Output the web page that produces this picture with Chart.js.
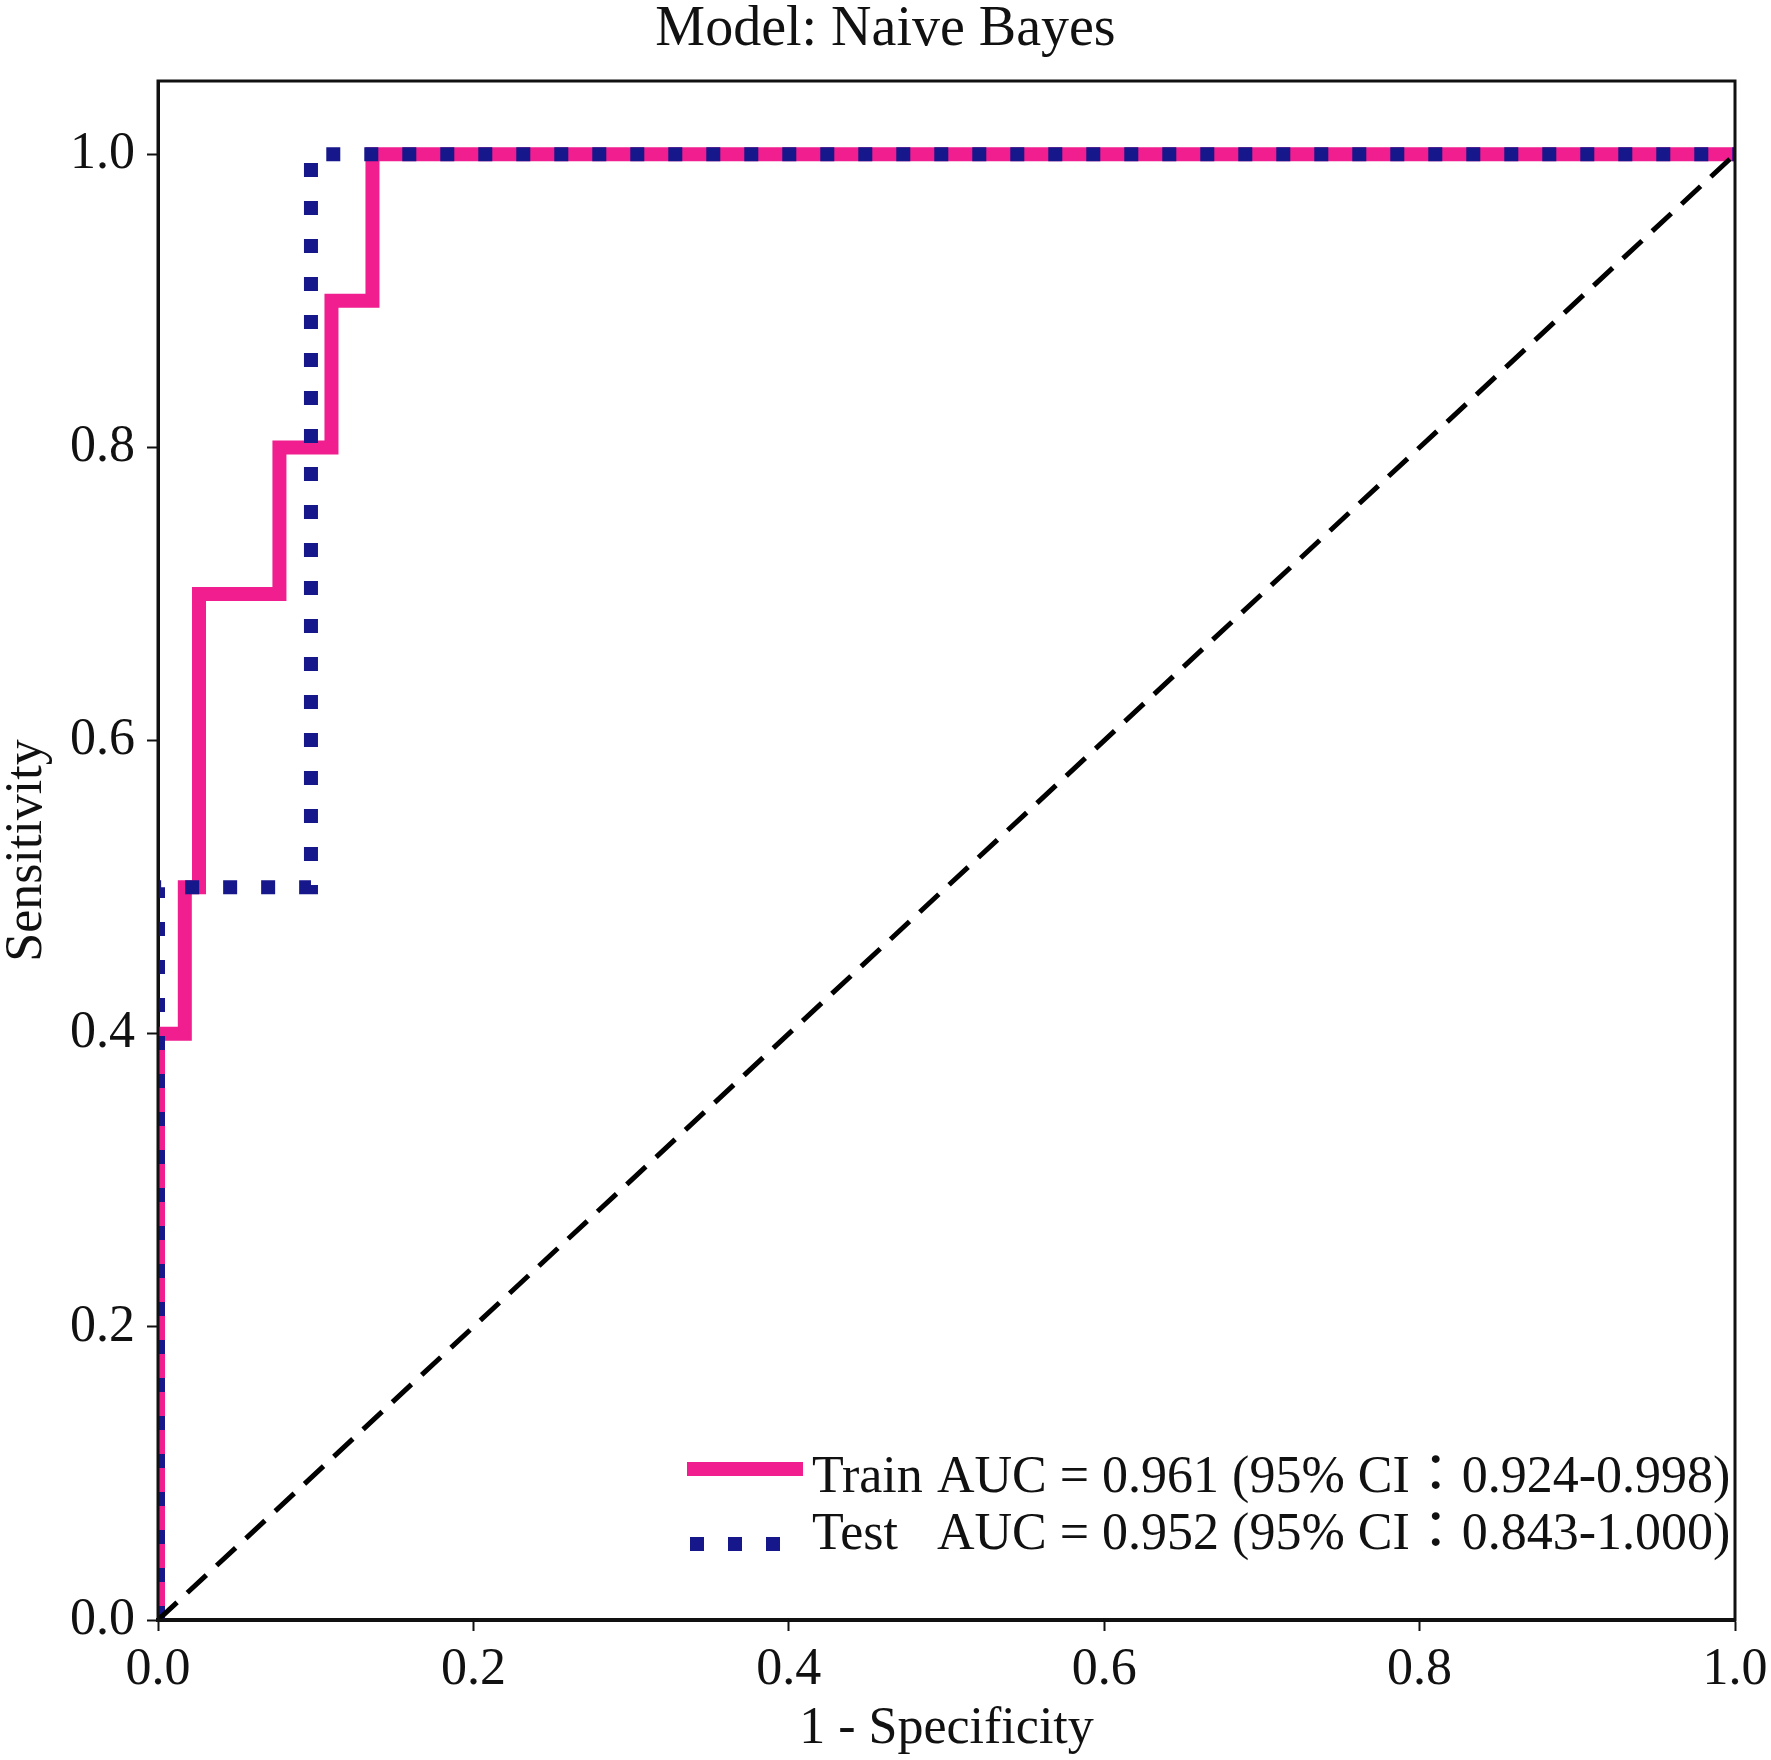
<!DOCTYPE html>
<html>
<head>
<meta charset="utf-8">
<script src="https://cdn.jsdelivr.net/npm/chart.js@4.4.0/dist/chart.umd.min.js"></script>
<style>
  html, body { margin: 0; padding: 0; background: #ffffff; }
  #wrap { width: 1771px; height: 1760px; }
</style>
</head>
<body>
<div id="wrap"><canvas id="c" width="1771" height="1760"></canvas></div>
<script>
// ---- data ----
const titleText = 'Model: Naive Bayes';
const xAxisTitle = '1 - Specificity';
const yAxisTitle = 'Sensitivity';

const xTickValues = [0, 0.2, 0.4, 0.6, 0.8, 1.0];
const xTickLabels = ['0.0', '0.2', '0.4', '0.6', '0.8', '1.0'];
const yTickValues = [0, 0.2, 0.4, 0.6, 0.8, 1.0];
const yTickLabels = ['0.0', '0.2', '0.4', '0.6', '0.8', '1.0'];

// Train ROC (1 - specificity, sensitivity)
const trainFPR = [0, 0, 0.017, 0.017, 0.026, 0.026, 0.077, 0.077, 0.110, 0.110, 0.136, 0.136, 1.0];
const trainTPR = [0, 0.4, 0.4, 0.5, 0.5, 0.7, 0.7, 0.8, 0.8, 0.9, 0.9, 1.0, 1.0];

// Test ROC
const testFPR = [0, 0, 0.097, 0.097, 1.0];
const testTPR = [0, 0.5, 0.5, 1.0, 1.0];

// chance diagonal
const diagFPR = [0, 1];
const diagTPR = [0, 1];

const legendNames = ['Train', 'Test'];
const legendStats = ['AUC = 0.961 (95% CI\uFF1A0.924-0.998)', 'AUC = 0.952 (95% CI\uFF1A0.843-1.000)'];

// ---- styles ----
const PINK = '#F01E8E';
const NAVY = '#17178C';
const INK = '#111111';
const FONT = "'Liberation Serif', 'Times New Roman', 'Noto Sans CJK TC', serif";

function pts(xs, ys) { return xs.map((x, i) => ({ x: x, y: ys[i] })); }

const boxPlugin = {
  id: 'boxBorder',
  afterDatasetsDraw(chart) {
    const { ctx, chartArea: a } = chart;
    ctx.save();
    ctx.strokeStyle = INK;
    ctx.lineWidth = 3;
    ctx.strokeRect(a.left, a.top, a.right - a.left, a.bottom - a.top);
    ctx.restore();
  }
};

const legendPlugin = {
  id: 'rocLegend',
  afterDraw(chart) {
    const { ctx, chartArea: a } = chart;
    const ds = chart.data.datasets;
    const rows = [
      { ds: ds[1], sampleY: a.bottom - 151, baseY: a.bottom - 128, x0: a.right - 1048, x1: a.right - 932 },
      { ds: ds[2], sampleY: a.bottom - 76, baseY: a.bottom - 71, x0: a.right - 1045, x1: a.right - 955 }
    ];
    ctx.save();
    rows.forEach((r, i) => {
      ctx.beginPath();
      ctx.strokeStyle = r.ds.borderColor;
      ctx.lineWidth = r.ds.borderWidth;
      ctx.lineCap = 'butt';
      ctx.setLineDash(r.ds.borderDash || []);
      ctx.moveTo(r.x0, r.sampleY);
      ctx.lineTo(r.x1, r.sampleY);
      ctx.stroke();
      ctx.setLineDash([]);
      ctx.fillStyle = INK;
      ctx.font = '52px ' + FONT;
      ctx.textBaseline = 'alphabetic';
      ctx.textAlign = 'left';
      ctx.fillText(legendNames[i], a.right - 923, r.baseY);
      ctx.fillText(legendStats[i], a.right - 798, r.baseY);
    });
    ctx.restore();
  }
};

new Chart(document.getElementById('c'), {
  type: 'line',
  data: {
    datasets: [
      {
        label: 'Chance',
        data: pts(diagFPR, diagTPR),
        borderColor: '#000000',
        borderWidth: 5,
        borderDash: [26, 14],
        pointRadius: 0,
        order: 0
      },
      {
        label: 'Train',
        data: pts(trainFPR, trainTPR),
        borderColor: PINK,
        borderWidth: 14,
        pointRadius: 0,
        borderJoinStyle: 'miter',
        clip: 0,
        order: 2
      },
      {
        label: 'Test',
        data: pts(testFPR, testTPR),
        borderColor: NAVY,
        borderWidth: 14,
        borderDash: [14, 24],
        borderCapStyle: 'butt',
        pointRadius: 0,
        clip: 0,
        order: 1
      }
    ]
  },
  options: {
    responsive: false,
    animation: false,
    devicePixelRatio: 1,
    layout: { autoPadding: false, padding: { left: 0, right: 0, top: 0, bottom: 0 } },
    plugins: {
      legend: { display: false },
      tooltip: { enabled: false },
      title: {
        display: true,
        text: titleText,
        color: INK,
        font: { family: FONT, size: 56, weight: 'normal', lineHeight: 1 },
        padding: { top: 2, bottom: 23 }
      }
    },
    scales: {
      x: {
        type: 'linear',
        min: 0,
        max: 1,
        afterFit(s) { s.height = 140; s.paddingLeft = 0; s.paddingRight = 0; },
        afterBuildTicks(s) { s.ticks = xTickValues.map(v => ({ value: v })); },
        ticks: {
          color: INK,
          font: { family: FONT, size: 52 },
          padding: 8,
          maxRotation: 0,
          callback: (v, i) => xTickLabels[i]
        },
        grid: { display: true, drawOnChartArea: false, drawTicks: true, tickLength: 11, tickWidth: 2, tickColor: INK },
        border: { display: true, color: INK, width: 4 },
        title: {
          display: true,
          text: xAxisTitle,
          color: INK,
          font: { family: FONT, size: 52, lineHeight: 1 },
          padding: { top: 0, bottom: 5 }
        }
      },
      y: {
        type: 'linear',
        min: 0,
        max: 1.05,
        afterFit(s) { s.width = 158; s.paddingTop = 0; s.paddingBottom = 0; },
        afterBuildTicks(s) { s.ticks = yTickValues.map(v => ({ value: v })); },
        ticks: {
          color: INK,
          font: { family: FONT, size: 52 },
          padding: 12,
          callback: (v, i) => yTickLabels[i]
        },
        grid: { display: true, drawOnChartArea: false, drawTicks: true, tickLength: 11, tickWidth: 2, tickColor: INK },
        border: { display: true, color: INK, width: 3 },
        title: {
          display: true,
          text: yAxisTitle,
          color: INK,
          font: { family: FONT, size: 52, lineHeight: 1 },
          padding: { top: 1, bottom: 0 }
        }
      },
      yPad: {
        type: 'linear',
        position: 'right',
        display: true,
        min: 0,
        max: 1.05,
        afterFit(s) { s.width = 36; s.paddingTop = 0; s.paddingBottom = 0; },
        ticks: { display: false },
        grid: { display: false },
        border: { display: false },
        title: { display: false }
      }
    }
  },
  plugins: [boxPlugin, legendPlugin]
});
</script>
</body>
</html>
